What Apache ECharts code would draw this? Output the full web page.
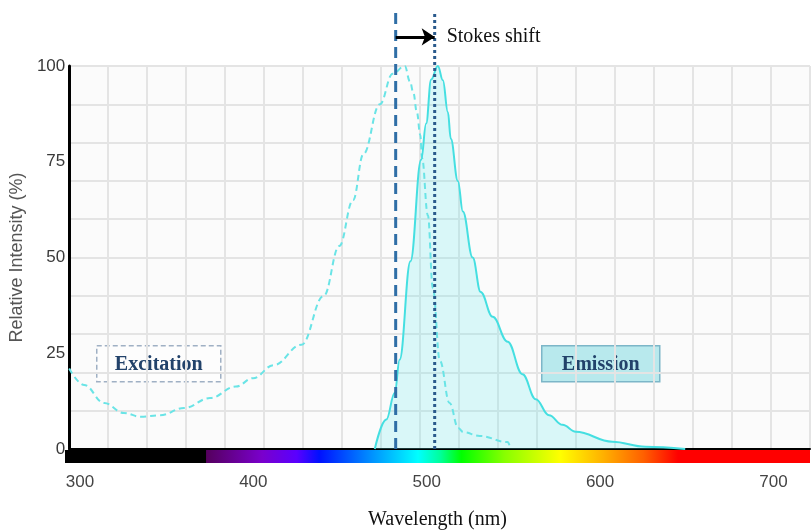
<!DOCTYPE html>
<html>
<head>
<meta charset="utf-8">
<title>Stokes shift</title>
<script src="https://cdn.jsdelivr.net/npm/echarts@6/dist/echarts.min.js"></script>
<style>
    html, body { margin: 0; padding: 0; background: #fff; }
    #main { width: 811px; height: 531px; }
</style>
</head>
<body>
<div id="main"></div>
<script>
// wavelength window of the plot (nm)
var xMin = 291.35;
var xMax = 721.1;

var xTicks = [300, 400, 500, 600, 700];
var yTicks = [0, 25, 50, 75, 100];

// excitation spectrum (dashed)
var excitationNm  = [291.3, 300, 311.6, 323, 333, 344, 358, 373, 388, 398, 410, 426, 439, 448, 456, 462, 471.5, 479, 486, 489, 491, 493, 495, 496, 499.4, 502.3, 506.4, 512, 517, 520, 529.5, 545.7, 547.4];
var excitationVal = [21, 16.7, 12, 9.4, 8.4, 8.8, 10.7, 13.3, 16.3, 18.5, 21.9, 27.2, 40, 53, 65, 77, 90, 98, 100, 96, 93, 88, 82, 76, 61, 42, 23, 12, 5.5, 4.4, 3.4, 1.8, 0];

// emission spectrum (filled)
var emissionNm  = [468.6, 475.3, 480.2, 483, 489.3, 495.5, 498.4, 501.3, 505.2, 508.1, 511, 512.7, 516.8, 519.7, 525.4, 530, 537, 545.7, 554.3, 562, 569.7, 577.5, 585.2, 606.4, 625.6, 648.7];
var emissionVal = [0, 7.7, 14.7, 23.3, 49, 75.5, 85, 96.5, 100, 96.3, 88, 81, 70, 62, 50, 41, 34.5, 28, 19.5, 13, 8.8, 6.3, 4.5, 1.9, 0.6, 0];

// peak markers
var excitationPeak = 482.1;
var emissionPeak = 504.6;

// colour bar under the axis: [nm, colour]
var SPECTRUM = [
    [291, '#000000'], [372.5, '#000000'], [373, '#55005e'], [405, '#7a00cc'],
    [425, '#5a00ff'], [438, '#0010ff'], [468, '#0090ff'], [495, '#00ffff'],
    [508, '#00ff99'], [520, '#00ff00'], [545, '#88ff00'], [577, '#ffff00'],
    [602, '#ffb000'], [625, '#ff6000'], [645, '#ff0000'], [722, '#ff0000']
];

// height of the stokes arrow in the overlay grid (0..1)
var ARROW_LEVEL = 0.943;

var SERIF = '"Liberation Serif", "Times New Roman", serif';
var SANS = '"Liberation Sans", Arial, sans-serif';

function pairs(xs, ys){
    var out = [];
    for(var i = 0; i < xs.length; i++){
        out.push([xs[i], ys[i]]);
    }
    return out;
}

function spectrumGradient(){
    var stops = [];
    for(var i = 0; i < SPECTRUM.length; i++){
        var off = (SPECTRUM[i][0] - xMin) / (xMax - xMin);
        off = Math.max(0, Math.min(1, off));
        stops.push({offset: off, color: SPECTRUM[i][1]});
    }
    return new echarts.graphic.LinearGradient(0, 0, 1, 0, stops);
}

function hiddenAxis(gridIndex, min, max){
    return {
        gridIndex: gridIndex, type: 'value', min: min, max: max, show: false,
        axisLine: {show: false}, axisTick: {show: false},
        axisLabel: {show: false}, splitLine: {show: false}
    };
}

// legend boxes
function boxes(){
    return [
        {
            type: 'group', left: 96, top: 345,
            children: [
                {type: 'rect', shape: {x: 0, y: 0, width: 124, height: 36},
                 style: {fill: 'rgba(255,255,255,0.5)', stroke: '#9fb0c4', lineWidth: 1.5, lineDash: [5, 3]}},
                {type: 'text', x: 62, y: 19,
                 style: {text: 'Excitation', fontFamily: SERIF, fontWeight: 'bold', fontSize: 20,
                         fill: '#22426a', align: 'center', verticalAlign: 'middle'}}
            ]
        },
        {
            type: 'group', left: 541, top: 345,
            children: [
                {type: 'rect', shape: {x: 0, y: 0, width: 118, height: 36},
                 style: {fill: 'rgba(140,222,228,0.6)', stroke: '#7cb6c8', lineWidth: 1.5}},
                {type: 'text', x: 59, y: 19,
                 style: {text: 'Emission', fontFamily: SERIF, fontWeight: 'bold', fontSize: 20,
                         fill: '#22426a', align: 'center', verticalAlign: 'middle'}}
            ]
        }
    ];
}

var chart = echarts.init(document.getElementById('main'));

var option = {
    animation: false,
    grid: [
        // main plot
        {left: 65, right: 1, top: 66, height: 383, show: true, backgroundColor: '#fbfbfb', borderWidth: 0},
        // colour bar
        {left: 65, right: 1, top: 450, height: 15},
        // overlay for the peak lines
        {left: 65, right: 1, top: 12, height: 437}
    ],
    xAxis: [
        {
            gridIndex: 0, type: 'value', min: xMin, max: xMax,
            axisLine: {show: true, onZero: false, lineStyle: {color: '#000', width: 2}},
            axisTick: {show: false}, axisLabel: {show: false}, splitLine: {show: false}
        },
        // grid lines only
        {
            gridIndex: 0, type: 'value', min: 0, max: 19, interval: 1, position: 'bottom',
            axisLine: {show: false}, axisTick: {show: false}, axisLabel: {show: false},
            splitLine: {show: true, lineStyle: {color: '#e4e4e4', width: 2}}
        },
        {
            gridIndex: 1, type: 'value', min: xMin, max: xMax,
            axisLine: {show: false}, axisTick: {show: false}, splitLine: {show: false},
            axisLabel: {customValues: xTicks, fontSize: 17, color: '#444', fontFamily: SANS, margin: 11},
            name: 'Wavelength (nm)', nameLocation: 'middle', nameGap: 47,
            nameTextStyle: {fontFamily: SERIF, fontSize: 20, color: '#111'}
        },
        hiddenAxis(2, xMin, xMax)
    ],
    yAxis: [
        {
            gridIndex: 0, type: 'value', min: 0, max: 100,
            axisLine: {show: true, onZero: false, lineStyle: {color: '#000', width: 3}},
            axisTick: {show: false}, splitLine: {show: false},
            axisLabel: {customValues: yTicks, fontSize: 17, color: '#3a3a3a', fontFamily: SANS,
                        margin: 4, padding: [4, 0, 0, 0]},
            name: 'Relative Intensity (%)', nameLocation: 'middle', nameGap: 35,
            nameTextStyle: {fontFamily: SANS, fontSize: 18, color: '#555'}
        },
        // grid lines only
        {
            gridIndex: 0, type: 'value', min: 0, max: 10, interval: 1, position: 'left',
            axisLine: {show: false}, axisTick: {show: false}, axisLabel: {show: false},
            splitLine: {show: true, lineStyle: {color: '#e4e4e4', width: 2}}
        },
        hiddenAxis(1, 0, 1),
        hiddenAxis(2, 0, 1)
    ],
    graphic: boxes(),
    series: [
        {
            name: 'spectrum', type: 'line', xAxisIndex: 2, yAxisIndex: 2,
            data: [[xMin, 1], [xMax, 1]], symbol: 'none', silent: true,
            lineStyle: {width: 0},
            areaStyle: {color: spectrumGradient(), opacity: 1}
        },
        {
            name: 'Excitation', type: 'line', xAxisIndex: 0, yAxisIndex: 0,
            data: pairs(excitationNm, excitationVal), symbol: 'none',
            smooth: 0.4, smoothMonotone: 'x', silent: true,
            lineStyle: {color: '#6ae4e6', width: 2, type: [6, 4]}
        },
        {
            name: 'Emission', type: 'line', xAxisIndex: 0, yAxisIndex: 0,
            data: pairs(emissionNm, emissionVal), symbol: 'none',
            smooth: 0.4, smoothMonotone: 'x', silent: true,
            lineStyle: {color: '#45dfe1', width: 2},
            areaStyle: {color: 'rgba(110,235,240,0.35)'}
        },
        {
            name: 'Excitation max', type: 'line', xAxisIndex: 3, yAxisIndex: 3,
            data: [[excitationPeak, 0], [excitationPeak, 1]], symbol: 'none', silent: true,
            lineStyle: {color: '#2f6ea6', width: 3, type: [11, 6]},
            markLine: {
                silent: true, symbol: ['none', 'arrow'], symbolSize: 13,
                lineStyle: {color: '#000', width: 3, type: 'solid'},
                label: {show: true, position: 'end', distance: 12, formatter: 'Stokes shift',
                        fontFamily: SERIF, fontSize: 20, color: '#111'},
                data: [[{coord: [excitationPeak, ARROW_LEVEL]}, {coord: [emissionPeak, ARROW_LEVEL]}]]
            }
        },
        {
            name: 'Emission max', type: 'line', xAxisIndex: 3, yAxisIndex: 3,
            data: [[emissionPeak, 0], [emissionPeak, 1]], symbol: 'none', silent: true,
            lineStyle: {color: '#2a5a8c', width: 3, type: [3, 3]}
        }
    ]
};

chart.setOption(option);
</script>
</body>
</html>
